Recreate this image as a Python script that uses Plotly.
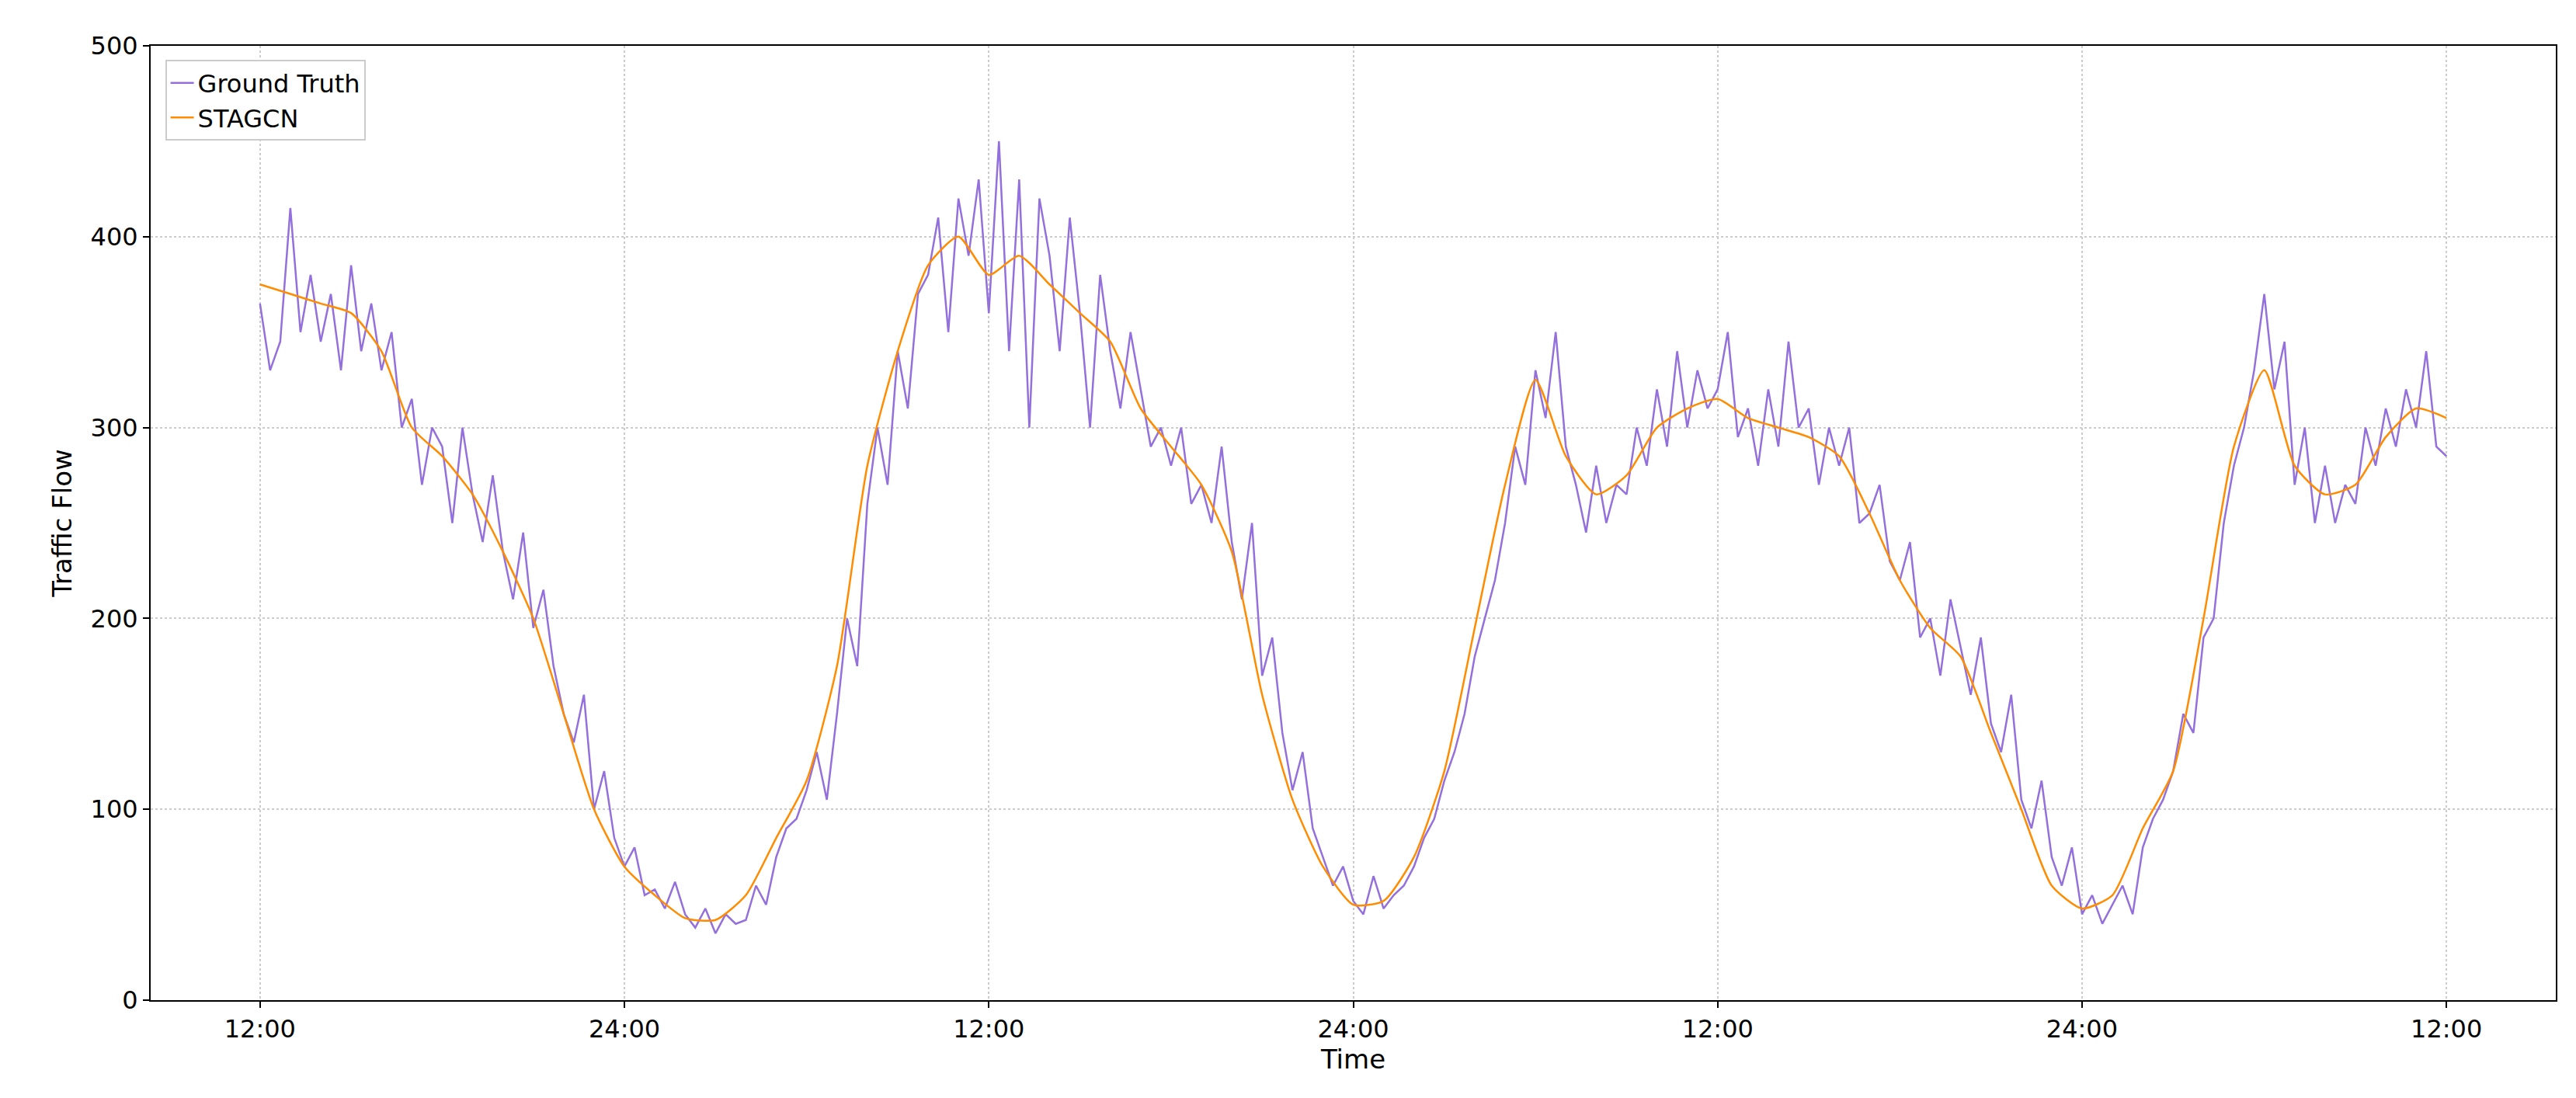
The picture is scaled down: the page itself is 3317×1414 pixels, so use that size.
import plotly.graph_objects as go
import numpy as np

tick_vals = [0, 12, 24, 36, 48, 60, 72]
tick_labels = ["12:00", "24:00", "12:00", "24:00", "12:00", "24:00", "12:00"]

ground_truth = [
365,330,345, 415,350,380, 345,370,330, 385,340,365, 330,350,300, 315,270,300,
290,250,300, 265,240,275, 235,210,245, 195,215,175, 150,135,160, 100,120,85,
70,80,55, 58,48,62, 45,38,48, 35,45,40, 42,60,50, 75,90,95,
110,130,105, 150,200,175, 260,300,270, 340,310,370, 380,410,350, 420,390,430,
360,450,340, 430,300,420, 390,340,410, 360,300,380, 340,310,350, 320,290,300,
280,300,260, 270,250,290, 240,210,250, 170,190,140, 110,130,90, 75,60,70,
52,45,65, 48,55,60, 70,85,95, 115,130,150, 180,200,220, 250,290,270,
330,305,350, 290,270,245, 280,250,270, 265,300,280, 320,290,340, 300,330,310,
320,350,295, 310,280,320, 290,345,300, 310,270,300, 280,300,250, 255,270,230,
220,240,190, 200,170,210, 185,160,190, 145,130,160, 105,90,115, 75,60,80,
45,55,40, 50,60,45, 80,95,105, 120,150,140, 190,200,250, 280,300,330,
370,320,345, 270,300,250, 280,250,270, 260,300,280, 310,290,320, 300,340,290,
285]

stagcn = [375,370,365,360,340,300,285,265,235,200,150,100,70,55,43,42,55,85,115,175,
280,340,385,400,380,390,375,360,345,310,290,270,235,160,105,70,50,52,75,120,
195,270,325,285,265,275,300,310,315,305,300,295,285,255,220,195,180,140,100,60,
48,55,90,120,200,290,330,280,265,270,295,310,305]

t_gt = np.arange(len(ground_truth)) / 3.0
t_st = np.arange(len(stagcn)) * 1.0

fig = go.Figure()
fig.add_trace(go.Scatter(x=t_gt, y=ground_truth, mode="lines", name="Ground Truth",
                         line=dict(color="#9370DB", width=2.5)))
fig.add_trace(go.Scatter(x=t_st, y=stagcn, mode="lines", name="STAGCN",
                         line=dict(color="#FF8C00", width=2.5, shape="spline", smoothing=0.6)))

axis_common = dict(showline=True, linecolor="black", linewidth=2, mirror=True,
                   ticks="outside", ticklen=8, tickwidth=2, tickcolor="black",
                   showgrid=True, gridcolor="#cccccc", griddash="dot", gridwidth=1.5,
                   zeroline=False, tickfont=dict(size=32, color="black"))
fig.update_xaxes(range=[-3.6, 75.6], tickvals=tick_vals, ticktext=tick_labels,
                 title=dict(text="Time", font=dict(size=34, color="black"), standoff=8), **axis_common)
fig.update_yaxes(range=[0, 500], tickvals=[0, 100, 200, 300, 400, 500],
                 title=dict(text="Traffic Flow", font=dict(size=34, color="black"), standoff=14), **axis_common)

fig.update_layout(width=3317, height=1414, plot_bgcolor="white", paper_bgcolor="white",
                  font=dict(family="DejaVu Sans", color="black"),
                  margin=dict(l=186, r=34, t=51, b=134),
                  legend=dict(x=0.006, y=0.985, xanchor="left", yanchor="top",
                              bgcolor="white", bordercolor="#cccccc", borderwidth=2,
                              font=dict(size=32)))
fig.write_html("out.html")
